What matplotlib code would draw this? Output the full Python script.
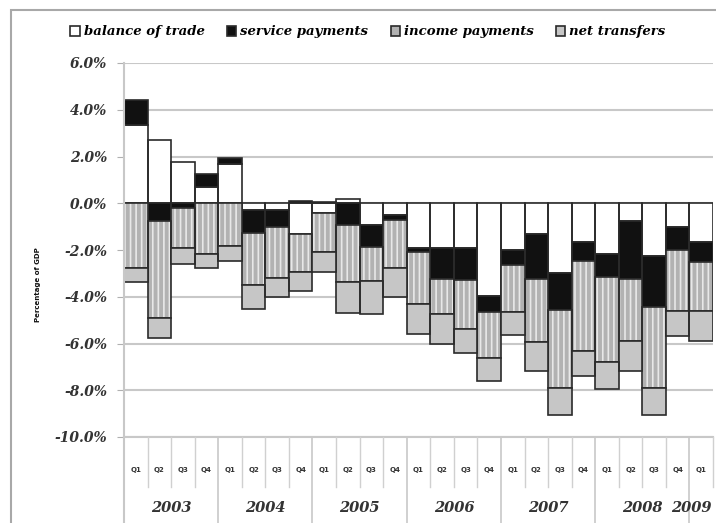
# -*- coding: utf-8 -*-
# Current account components, quarterly, % of GDP

import numpy as np
import matplotlib.pyplot as plt
from matplotlib.patches import Patch, Rectangle

years = ["2003", "2004", "2005", "2006", "2007", "2008", "2009"]
quarters = ["Q1", "Q2", "Q3", "Q4"]
series_names = ["balance of trade", "service payments", "income payments", "net transfers"]

balance_of_trade = [3.33, 2.69, 1.76, 0.70, 1.70, -0.28, -0.30, -1.30, -0.40, 0.20, -0.95, -0.50, -1.90,
                    -1.90, -1.90, -3.95, -2.00, -1.30, -3.00, -1.65, -2.15, -0.75, -2.25, -1.00, -1.65]
service_payments = [1.08, -0.77, -0.20, 0.55, 0.25, -1.00, -0.73, 0.10, 0.05, -0.95, -0.93, -0.20, -0.20,
                    -1.35, -1.40, -0.70, -0.65, -1.95, -1.55, -0.80, -1.00, -2.50, -2.20, -1.00, -0.85]
income_payments = [-2.75, -4.12, -1.70, -2.15, -1.82, -2.20, -2.15, -1.65, -1.70, -2.40, -1.45, -2.05, -2.20,
                   -1.50, -2.10, -1.95, -2.00, -2.70, -3.35, -3.85, -3.65, -2.65, -3.45, -2.60, -2.10]
net_transfers = [-0.60, -0.86, -0.71, -0.60, -0.67, -1.05, -0.85, -0.80, -0.85, -1.35, -1.40, -1.25, -1.28,
                 -1.28, -1.00, -1.00, -1.00, -1.21, -1.14, -1.08, -1.15, -1.29, -1.14, -1.08, -1.29]

faces = ["white", "#111111", "#b2b2b2", "#c6c6c6"]
hatches = [None, None, "|||", None]
edge = "#2a2a2a"

serif = "DejaVu Serif"
fig = plt.figure(figsize=(7.16, 5.23), dpi=100)
ax = fig.add_axes([124 / 716, 1 - 437 / 523, 589 / 716, 374 / 523])

plt.rcParams["hatch.linewidth"] = 1.2

data = [balance_of_trade, service_payments, income_payments, net_transfers]
n = len(balance_of_trade)
x = np.arange(n)
pos = np.zeros(n)
neg = np.zeros(n)
for vals, fc, h in zip(data, faces, hatches):
    vals = np.array(vals)
    bottom = np.where(vals >= 0, pos, neg)
    if h:
        ax.bar(x, vals, 1.0, bottom=bottom, color=fc, edgecolor="#e8e8e8", hatch=h, linewidth=0)
    else:
        ax.bar(x, vals, 1.0, bottom=bottom, color=fc, linewidth=0)
    ax.bar(x, vals, 1.0, bottom=bottom, fill=False, edgecolor=edge, linewidth=1.2)
    pos = pos + np.where(vals >= 0, vals, 0)
    neg = neg + np.where(vals < 0, vals, 0)

ax.set_xlim(-0.5, n - 0.5)
ax.set_ylim(-10, 6)
ax.set_yticks(np.arange(-10, 7, 2))
ax.set_yticklabels(["%.1f%%" % v for v in np.arange(-10, 7, 2)], family=serif,
                   style="italic", weight="bold", fontsize=10, color="#333333")
ax.set_xticks([])
ax.tick_params(axis="y", length=5, color="#b0b0b0", pad=7)
ax.yaxis.grid(True, color="#c8c8c8", linewidth=1.5)
ax.set_axisbelow(True)
for s in ax.spines.values():
    s.set_visible(False)
ax.axhline(-10, color="#c8c8c8", linewidth=1.5, clip_on=False, zorder=0)

# multi-level category axis under the plot
tr = ax.get_xaxis_transform()
ax.plot([-0.5, -0.5], [1, -0.25], color="#c8c8c8", lw=1.5, transform=tr, clip_on=False)
for i in range(n):
    if i % 4 == 3:
        ax.plot([i + 0.5, i + 0.5], [0, -0.25], color="#c8c8c8", lw=1.2, transform=tr, clip_on=False)
    else:
        ax.plot([i + 0.5, i + 0.5], [0, -0.134], color="#d0d0d0", lw=1.0, transform=tr, clip_on=False)
    ax.text(i, -0.088, quarters[i % 4], transform=tr, ha="center", va="center",
            fontsize=5, weight="bold", color="#333333")
for k, yr in enumerate(years):
    if k < len(years) - 1:
        xpos, ha = 4 * k + 1.5, "center"
    else:
        xpos, ha = n - 0.55, "right"  # last year has one quarter only, keep it inside the figure
    ax.text(xpos, -0.19, yr, transform=tr, ha=ha, va="center", family=serif,
            style="italic", weight="bold", fontsize=10.5, color="#333333")

fig.text(38 / 716, 1 - 285 / 523, "Percentage of GDP", rotation=90, ha="center", va="center",
         fontsize=5, weight="bold", color="#111111")

handles = [Patch(facecolor=fc, edgecolor=edge, linewidth=1.2) for fc in faces]
fig.legend(handles, series_names, loc="center", bbox_to_anchor=(368 / 716, 1 - 32 / 523), ncol=4,
           frameon=False, handlelength=0.7, handleheight=0.7, handletextpad=0.3, columnspacing=1.7,
           prop={"family": serif, "style": "italic", "weight": "bold", "size": 9.5})

fig.patches.append(Rectangle((11 / 716, -0.05), 1.2, 1.05 - 10 / 523, transform=fig.transFigure,
                             fill=False, edgecolor="#a8a8a8", linewidth=1.5))

fig.savefig("out.png", dpi=100)
